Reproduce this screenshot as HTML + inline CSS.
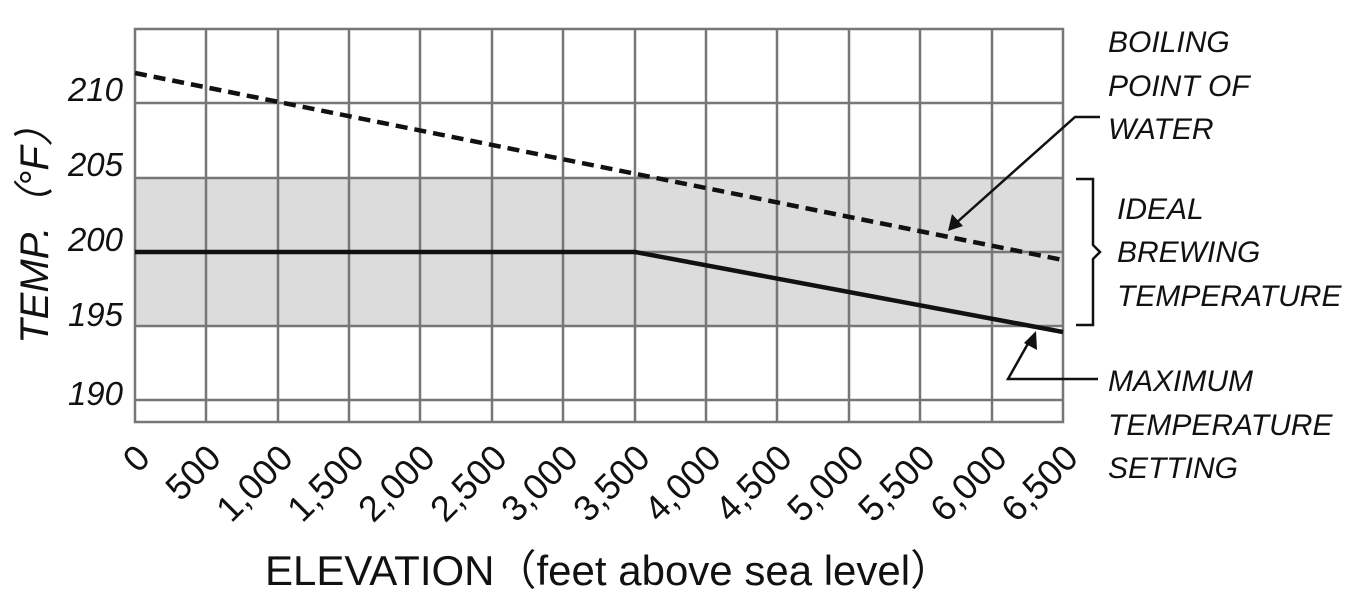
<!DOCTYPE html>
<html><head><meta charset="utf-8"><style>body{margin:0;background:#fff}svg{display:block}</style></head><body>
<svg width="1359" height="605" viewBox="0 0 1359 605" xmlns="http://www.w3.org/2000/svg" font-family="Liberation Sans, sans-serif">
<rect x="135" y="178" width="928" height="148" fill="#dcdcdc"/>
<g stroke="#777" stroke-width="2.5" fill="none">
<rect x="135" y="29" width="928" height="393"/>
<path d="M135 103H1063M135 178H1063M135 252H1063M135 326H1063M135 400H1063"/>
<path d="M206 29V422M278 29V422M349 29V422M420 29V422M492 29V422M563 29V422M635 29V422M706 29V422M777 29V422M849 29V422M920 29V422M992 29V422"/>
</g>
<path d="M135 73L1063 260" stroke="#111" stroke-width="4.5" stroke-dasharray="12,7" fill="none"/>
<path d="M135 252L635 252L1063 332" stroke="#111" stroke-width="4.5" fill="none"/>
<g stroke="#111" stroke-width="2.5" fill="none">
<path d="M1100 117H1075L955 224"/>
<path d="M1098 379H1008L1030 340"/>
<path d="M1076 179H1093V245L1100 252L1093 259V325H1076"/>
</g>
<path d="M948 231L952 214L963 226Z" fill="#111"/>
<path d="M1036 331L1037 350L1024 343Z" fill="#111"/>
<g font-style="italic" font-size="30" fill="#111">
<text x="1108" y="52">BOILING</text><text x="1108" y="96">POINT OF</text><text x="1108" y="139">WATER</text>
<text x="1117" y="219">IDEAL</text><text x="1117" y="262">BREWING</text><text x="1117" y="306">TEMPERATURE</text>
<text x="1108" y="391">MAXIMUM</text><text x="1108" y="435">TEMPERATURE</text><text x="1108" y="478">SETTING</text>
</g>
<g font-style="italic" font-size="33" fill="#111" text-anchor="end">
<text x="123" y="101">210</text><text x="123" y="176">205</text><text x="123" y="251">200</text><text x="123" y="326">195</text><text x="123" y="405">190</text>
</g>
<text transform="translate(48 225) rotate(-90)" text-anchor="middle" font-style="italic" font-size="40" fill="#111">TEMP.（°F）</text>
<g font-size="36" fill="#111" text-anchor="end">
<text transform="translate(152 460) rotate(-45)">0</text>
<text transform="translate(223 460) rotate(-45)">500</text>
<text transform="translate(295 460) rotate(-45)">1,000</text>
<text transform="translate(366 460) rotate(-45)">1,500</text>
<text transform="translate(437 460) rotate(-45)">2,000</text>
<text transform="translate(509 460) rotate(-45)">2,500</text>
<text transform="translate(580 460) rotate(-45)">3,000</text>
<text transform="translate(652 460) rotate(-45)">3,500</text>
<text transform="translate(723 460) rotate(-45)">4,000</text>
<text transform="translate(794 460) rotate(-45)">4,500</text>
<text transform="translate(866 460) rotate(-45)">5,000</text>
<text transform="translate(937 460) rotate(-45)">5,500</text>
<text transform="translate(1009 460) rotate(-45)">6,000</text>
<text transform="translate(1080 460) rotate(-45)">6,500</text>
</g>
<text x="265" y="585" font-size="42" fill="#111">ELEVATION（feet above sea level）</text>
</svg>
</body></html>
